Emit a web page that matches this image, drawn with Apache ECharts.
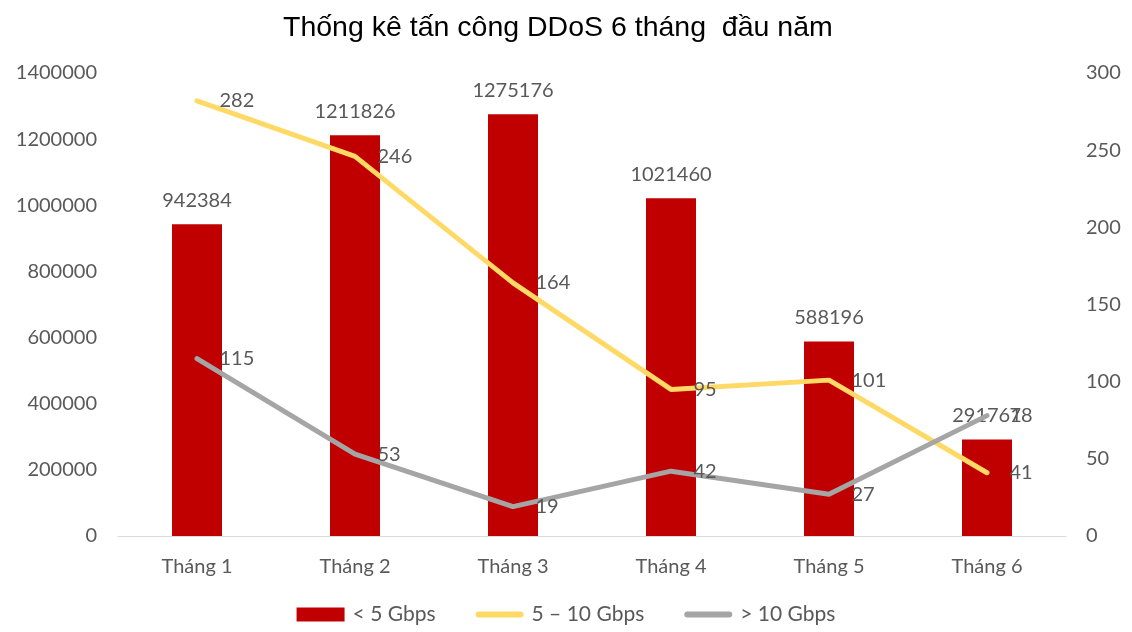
<!DOCTYPE html>
<html>
<head>
<meta charset="utf-8">
<script src="https://cdn.jsdelivr.net/npm/echarts@6/dist/echarts.min.js"></script>
<style>
html, body { margin: 0; padding: 0; background: #fff; }
#chart { width: 1132px; height: 632px; }
</style>
</head>
<body>
<div id="chart"></div>
<script>
// dữ liệu
const months = ['Tháng 1', 'Tháng 2', 'Tháng 3', 'Tháng 4', 'Tháng 5', 'Tháng 6'];
const under5 = [942384, 1211826, 1275176, 1021460, 588196, 291761];
const from5to10 = [282, 246, 164, 95, 101, 41];
const over10 = [115, 53, 19, 42, 27, 78];
const leftTicks = [0, 1400000, 200000];
const rightTicks = [0, 300, 50];

const textColor = '#595959';
const font = 'Lato';
const lineIcon = 'path://M3,0 L45,0 A3,3 0 0 1 45,6 L3,6 A3,3 0 0 1 3,0 Z';

const lineLabel = {
  show: true,
  position: 'right',
  distance: 22,
  color: textColor,
  fontFamily: font,
  fontSize: 20
};

const myChart = echarts.init(document.getElementById('chart'));
myChart.setOption({
  animation: false,
  title: {
    text: 'Thống kê tấn công DDoS 6 tháng  đầu năm',
    left: 278,
    top: 9,
    textStyle: { fontFamily: 'Liberation Sans', fontSize: 28.5, fontWeight: 'normal', color: '#000' }
  },
  legend: {
    bottom: 2,
    left: 'center',
    itemWidth: 48,
    itemHeight: 14,
    itemGap: 40,
    textStyle: { color: textColor, fontFamily: font, fontSize: 21, padding: [0, 0, 0, 3] },
    data: [
      { name: '< 5 Gbps', icon: 'rect' },
      { name: '5 – 10 Gbps', icon: lineIcon, itemStyle: { color: '#ffd966' } },
      { name: '> 10 Gbps', icon: lineIcon, itemStyle: { color: '#a5a5a5' } }
    ]
  },
  grid: { left: 118, right: 66, top: 73, bottom: 96, containLabel: false },
  xAxis: {
    type: 'category',
    data: months,
    axisLine: { lineStyle: { color: '#d9d9d9' } },
    axisTick: { show: false },
    axisLabel: { color: textColor, fontFamily: font, fontSize: 20, margin: 21 }
  },
  yAxis: [
    {
      type: 'value',
      min: leftTicks[0], max: leftTicks[1], interval: leftTicks[2],
      splitLine: { show: false },
      axisLine: { show: false },
      axisTick: { show: false },
      axisLabel: { color: textColor, fontFamily: font, fontSize: 20, margin: 21, formatter: v => String(v) }
    },
    {
      type: 'value',
      min: rightTicks[0], max: rightTicks[1], interval: rightTicks[2],
      splitLine: { show: false },
      axisLine: { show: false },
      axisTick: { show: false },
      axisLabel: { color: textColor, fontFamily: font, fontSize: 20, margin: 20 }
    }
  ],
  series: [
    {
      name: '< 5 Gbps',
      type: 'bar',
      barWidth: 50,
      data: under5,
      itemStyle: { color: '#c00000' },
      label: { show: true, position: 'top', distance: 14, color: textColor, fontFamily: font, fontSize: 20 }
    },
    {
      name: '5 – 10 Gbps',
      type: 'line',
      yAxisIndex: 1,
      data: from5to10,
      symbol: 'circle',
      symbolSize: 1,
      itemStyle: { color: '#ffd966' },
      lineStyle: { color: '#ffd966', width: 5, cap: 'round' },
      label: lineLabel
    },
    {
      name: '> 10 Gbps',
      type: 'line',
      yAxisIndex: 1,
      data: over10,
      symbol: 'circle',
      symbolSize: 1,
      itemStyle: { color: '#a5a5a5' },
      lineStyle: { color: '#a5a5a5', width: 5, cap: 'round' },
      label: lineLabel
    }
  ]
});
</script>
</body>
</html>
